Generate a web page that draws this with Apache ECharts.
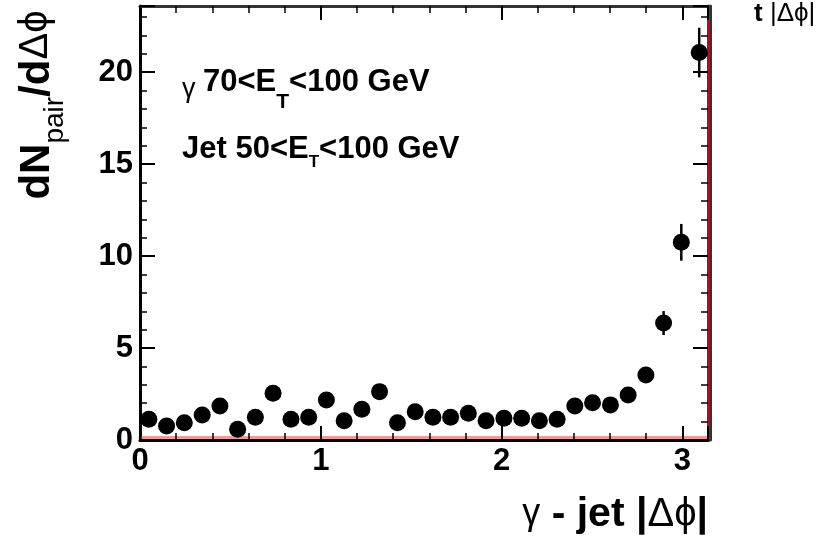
<!DOCTYPE html>
<html>
<head>
<meta charset="utf-8">
<script src="https://cdn.jsdelivr.net/npm/echarts@6/dist/echarts.min.js"></script>
<style>
  html, body { margin: 0; padding: 0; background: #fff; }
  #chart { width: 836px; height: 542px; }
</style>
</head>
<body>
<div id="chart"></div>
<script>
// bin centres of |dphi| (32 bins from 0 to pi)
const dphi = [0.049, 0.147, 0.245, 0.344, 0.442, 0.540, 0.638, 0.736,
              0.835, 0.933, 1.031, 1.129, 1.227, 1.325, 1.424, 1.522,
              1.620, 1.718, 1.816, 1.914, 2.013, 2.111, 2.209, 2.307,
              2.405, 2.503, 2.602, 2.700, 2.798, 2.896, 2.994, 3.093];
// dN_pair / d dphi
const dndphi = [1.13, 0.76, 0.94, 1.36, 1.85, 0.58, 1.24, 2.54,
                1.13, 1.24, 2.18, 1.05, 1.67, 2.63, 0.94, 1.54,
                1.24, 1.24, 1.46, 1.05, 1.18, 1.18, 1.05, 1.13,
                1.85, 2.03, 1.91, 2.45, 3.54, 6.36, 10.75, 21.07];
const errors = [0.3, 0.3, 0.3, 0.3, 0.3, 0.3, 0.3, 0.3,
                0.3, 0.3, 0.3, 0.3, 0.3, 0.3, 0.3, 0.3,
                0.3, 0.3, 0.3, 0.3, 0.3, 0.3, 0.3, 0.3,
                0.3, 0.3, 0.3, 0.3, 0.35, 0.65, 1.0, 1.35];

const xMin = 0, xMax = Math.PI;
const yMin = 0, yMax = 23.6;

const points = dphi.map((x, i) => [x, dndphi[i], errors[i]]);

const font = 'Liberation Sans, Arial, Helvetica, sans-serif';

const xAxisBase = {
  type: 'value', min: xMin, max: xMax, interval: 1,
  splitLine: { show: false },
  axisTick: { inside: true, length: 14, lineStyle: { color: '#000', width: 2 } },
  minorTick: { show: true, splitNumber: 5, length: 7, lineStyle: { color: '#000', width: 1.5 } },
  minorSplitLine: { show: false }
};
const yAxisBase = {
  type: 'value', min: yMin, max: yMax, interval: 5,
  splitLine: { show: false },
  axisTick: { inside: true, length: 15, lineStyle: { color: '#000', width: 2 } },
  minorTick: { show: true, splitNumber: 5, length: 7, lineStyle: { color: '#000', width: 1.5 } },
  minorSplitLine: { show: false }
};

const chart = echarts.init(document.getElementById('chart'));

const option = {
  animation: false,
  backgroundColor: '#fff',
  grid: { left: 140, right: 128, top: 6, bottom: 102 },
  xAxis: [
    Object.assign({}, xAxisBase, {
      position: 'bottom',
      axisLine: { onZero: false, lineStyle: { color: '#000', width: 3,
        shadowColor: 'rgba(230,60,60,0.55)', shadowOffsetY: -3, shadowBlur: 1 } },
      axisLabel: {
        show: true, margin: 6, showMaxLabel: false,
        color: '#000', fontFamily: font, fontWeight: 'bold', fontSize: 31
      }
    }),
    Object.assign({}, xAxisBase, {
      position: 'top',
      axisLine: { onZero: false, lineStyle: { color: '#333', width: 3 } },
      axisLabel: { show: false }
    })
  ],
  yAxis: [
    Object.assign({}, yAxisBase, {
      position: 'left',
      axisLine: { show: true, onZero: false, lineStyle: { color: '#000', width: 3 } },
      axisLabel: {
        show: true, margin: 7, showMaxLabel: false,
        color: '#000', fontFamily: font, fontWeight: 'bold', fontSize: 31
      }
    }),
    Object.assign({}, yAxisBase, {
      position: 'right',
      axisLine: { show: true, onZero: false, lineStyle: { color: '#c8001a', width: 3,
        shadowColor: 'rgba(0,0,0,0.8)', shadowOffsetX: 2, shadowBlur: 0 } },
      axisLabel: { show: false }
    })
  ],
  series: [
    {
      name: 'errors',
      type: 'custom',
      xAxisIndex: 0, yAxisIndex: 0,
      encode: { x: 0, y: 1 },
      data: points,
      z: 2,
      renderItem: (params, api) => {
        const x = api.value(0), y = api.value(1), e = api.value(2);
        const top = api.coord([x, y + e]);
        const bot = api.coord([x, y - e]);
        return {
          type: 'line',
          shape: { x1: top[0], y1: top[1], x2: bot[0], y2: bot[1] },
          style: { stroke: '#000', lineWidth: 2.5 }
        };
      }
    },
    {
      name: 'gamma-jet',
      type: 'scatter',
      xAxisIndex: 0, yAxisIndex: 0,
      data: points.map(p => [p[0], p[1]]),
      symbol: 'circle',
      symbolSize: 17,
      itemStyle: { color: '#000', opacity: 1 },
      z: 3
    }
  ],
  graphic: [
    {
      // y axis title
      type: 'text',
      x: 16, y: 105,
      rotation: Math.PI / 2,
      style: {
        text: '{b|dN}{s|pair}{b|/d}{n|Δϕ}',
        align: 'center', verticalAlign: 'top',
        rich: {
          b: { fontFamily: font, fontWeight: 'bold', fontSize: 42, lineHeight: 42, verticalAlign: 'top', fill: '#000' },
          n: { fontFamily: font, fontWeight: 'normal', fontSize: 40, lineHeight: 42, verticalAlign: 'top', fill: '#000' },
          s: { fontFamily: font, fontWeight: 'normal', fontSize: 28, lineHeight: 53, verticalAlign: 'bottom', fill: '#000' }
        }
      }
    },
    {
      // x axis title
      type: 'text',
      right: 128, top: 494,
      style: {
        text: '{g|γ}{b| - jet |}{n|Δϕ}{b||}',
        rich: {
          b: { fontFamily: font, fontWeight: 'bold', fontSize: 41, lineHeight: 46, fill: '#000' },
          n: { fontFamily: font, fontWeight: 'normal', fontSize: 40, lineHeight: 46, fill: '#000' },
          g: { fontFamily: font, fontWeight: 'normal', fontSize: 36, lineHeight: 46, fill: '#000' }
        }
      }
    },
    {
      // selection text, line 1
      type: 'text',
      x: 182, y: 67,
      style: {
        text: '{g|γ }{b|70<E}{s|T}{b|<100 GeV}',
        verticalAlign: 'top',
        rich: {
          b: { fontFamily: font, fontWeight: 'bold', fontSize: 31, lineHeight: 31, verticalAlign: 'top', fill: '#000' },
          g: { fontFamily: font, fontWeight: 'normal', fontSize: 27, lineHeight: 27, verticalAlign: 'middle', fill: '#000' },
          s: { fontFamily: font, fontWeight: 'bold', fontSize: 21, lineHeight: 46, verticalAlign: 'bottom', fill: '#000' }
        }
      }
    },
    {
      // selection text, line 2
      type: 'text',
      x: 182, y: 134,
      style: {
        text: '{b|Jet 50<E}{s|T}{b|<100 GeV}',
        verticalAlign: 'top',
        rich: {
          b: { fontFamily: font, fontWeight: 'bold', fontSize: 31, lineHeight: 31, verticalAlign: 'top', fill: '#000' },
          s: { fontFamily: font, fontWeight: 'bold', fontSize: 17, lineHeight: 37, verticalAlign: 'bottom', fill: '#000' }
        }
      }
    },
    {
      // cut-off title from neighbouring panel
      type: 'text',
      x: 754, y: 0,
      style: {
        text: '{b|t }{n||Δϕ|}',
        rich: {
          b: { fontFamily: font, fontWeight: 'bold', fontSize: 26, lineHeight: 28, fill: '#000' },
          n: { fontFamily: font, fontWeight: 'normal', fontSize: 26, lineHeight: 28, fill: '#000' }
        }
      }
    }
  ]
};

chart.setOption(option);
</script>
</body>
</html>
